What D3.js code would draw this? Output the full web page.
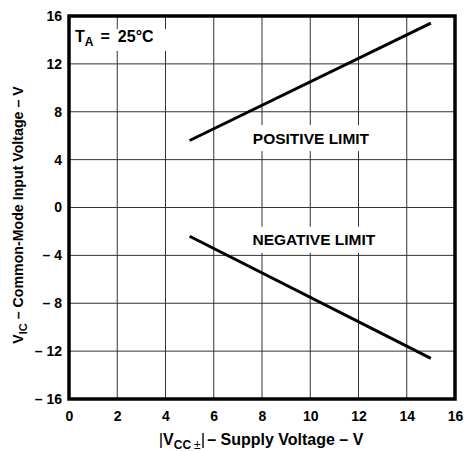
<!DOCTYPE html>
<html>
<head>
<meta charset="utf-8">
<script src="https://cdn.jsdelivr.net/npm/d3@7"></script>
<style>
	html, body { margin:0; padding:0; background:#fff; }
	svg text { font-family:"Liberation Sans", Arial, Helvetica, sans-serif; font-weight:bold; fill:#000; }
</style>
</head>
<body>
<svg id="chart-1" width="464" height="451"></svg>
<script>
// Supply voltage |VCC±| (V) at the ends of each limit line
const supplyV = [5, 15];
// Common-mode input voltage limits (V)
const positiveLimit = [5.6, 15.4];
const negativeLimit = [-2.4, -12.6];
// tick values
const xTicks = [0, 2, 4, 6, 8, 10, 12, 14, 16];
const yTicks = [16, 12, 8, 4, 0, -4, -8, -12, -16];

const width = 464;
const height = 451;
const margin = {top:16, right:9, bottom:52, left:69};
const innerWidth = width - margin.left - margin.right;
const innerHeight = height - margin.top - margin.bottom;

const svg = d3.select('svg#chart-1');
const g = svg.append('g')
	.attr('transform', `translate(${margin.left},${margin.top})`);

const x = d3.scaleLinear().domain([0, 16]).range([0, innerWidth]);
const y = d3.scaleLinear().domain([-16, 16]).range([innerHeight, 0]);

const fmt = d => d < 0 ? '\u2013 ' + Math.abs(d) : String(d);

// grid
g.append('g').selectAll('line').data(xTicks.slice(1, -1))
	.enter().append('line')
		.attr('x1', d => x(d)).attr('x2', d => x(d))
		.attr('y1', 0).attr('y2', innerHeight)
		.attr('stroke', '#333').attr('stroke-width', 1);
g.append('g').selectAll('line').data(yTicks.slice(1, -1))
	.enter().append('line')
		.attr('x1', 0).attr('x2', innerWidth)
		.attr('y1', d => y(d)).attr('y2', d => y(d))
		.attr('stroke', '#333').attr('stroke-width', 1);

// labels inside the plot (white backing breaks the grid like the original)
function label(cx, cy, w, h, build) {
	g.append('rect')
		.attr('x', cx - w/2).attr('y', cy - h/2)
		.attr('width', w).attr('height', h)
		.attr('fill', '#fff');
	build(cx, cy);
}

label(x(10.03), y(5.8), 132, 26, (cx, cy) => {
	g.append('text').attr('x', cx).attr('y', cy).attr('dy', '0.36em')
		.attr('text-anchor', 'middle').attr('font-size', '15.5px')
		.text('POSITIVE LIMIT');
});
label(x(10.15), y(-2.7), 136, 26, (cx, cy) => {
	g.append('text').attr('x', cx).attr('y', cy).attr('dy', '0.36em')
		.attr('text-anchor', 'middle').attr('font-size', '15.5px')
		.text('NEGATIVE LIMIT');
});
label(x(2.0), y(14.0), 100, 22, (cx, cy) => {
	const t = g.append('text').attr('x', x(0.25)).attr('y', y(13.8))
		.attr('font-size', '16px');
	t.append('tspan').text('T');
	t.append('tspan').attr('font-size', '12px').attr('dy', 4).text('A');
	t.append('tspan').attr('dy', -4).attr('dx', 7).text('=');
	t.append('tspan').attr('dx', 8).text('25°C');
});

// curves
const line = d3.line().x(d => x(d[0])).y(d => y(d[1]));
[positiveLimit, negativeLimit].forEach(series => {
	g.append('path')
		.datum(supplyV.map((v, i) => [v, series[i]]))
		.attr('d', line)
		.attr('fill', 'none')
		.attr('stroke', '#000')
		.attr('stroke-width', 3);
});

// frame
g.append('rect')
	.attr('x', 0).attr('y', 0)
	.attr('width', innerWidth).attr('height', innerHeight)
	.attr('fill', 'none').attr('stroke', '#000').attr('stroke-width', 3.5);

// axes (labels only)
const xAxis = g.append('g')
	.attr('transform', `translate(0,${innerHeight})`)
	.call(d3.axisBottom(x).tickValues(xTicks).tickFormat(fmt).tickSize(0).tickPadding(12));
const yAxis = g.append('g')
	.call(d3.axisLeft(y).tickValues(yTicks).tickFormat(fmt).tickSize(0).tickPadding(7));
[xAxis, yAxis].forEach(a => {
	a.attr('font-family', null).attr('font-size', null);
	a.select('.domain').remove();
	a.selectAll('text').attr('font-size', '14px');
});

// x title
const xt = svg.append('text')
	.attr('x', 261).attr('y', 445)
	.attr('text-anchor', 'middle')
	.attr('font-size', '16px');
xt.append('tspan').attr('font-weight', 'normal').attr('font-size', '17px').text('|');
xt.append('tspan').text('V');
xt.append('tspan').attr('font-size', '12px').attr('dy', 4).text('CC');
xt.append('tspan').attr('font-size', '12px').attr('dx', 3).attr('font-weight', 'normal').text('\u00b1');
xt.append('tspan').attr('dy', -4).attr('font-weight', 'normal').attr('font-size', '17px').text('|');
xt.append('tspan').attr('dx', 2).text('\u2013 Supply Voltage \u2013 V');

// y title
const yt = svg.append('text')
	.attr('transform', 'translate(23,215) rotate(-90)')
	.attr('text-anchor', 'middle')
	.attr('font-size', '14.2px');
yt.append('tspan').text('V');
yt.append('tspan').attr('font-size', '11px').attr('dy', 4).text('IC');
yt.append('tspan').attr('dy', -4).text(' \u2013 Common-Mode Input Voltage \u2013 V');
</script>
</body>
</html>
